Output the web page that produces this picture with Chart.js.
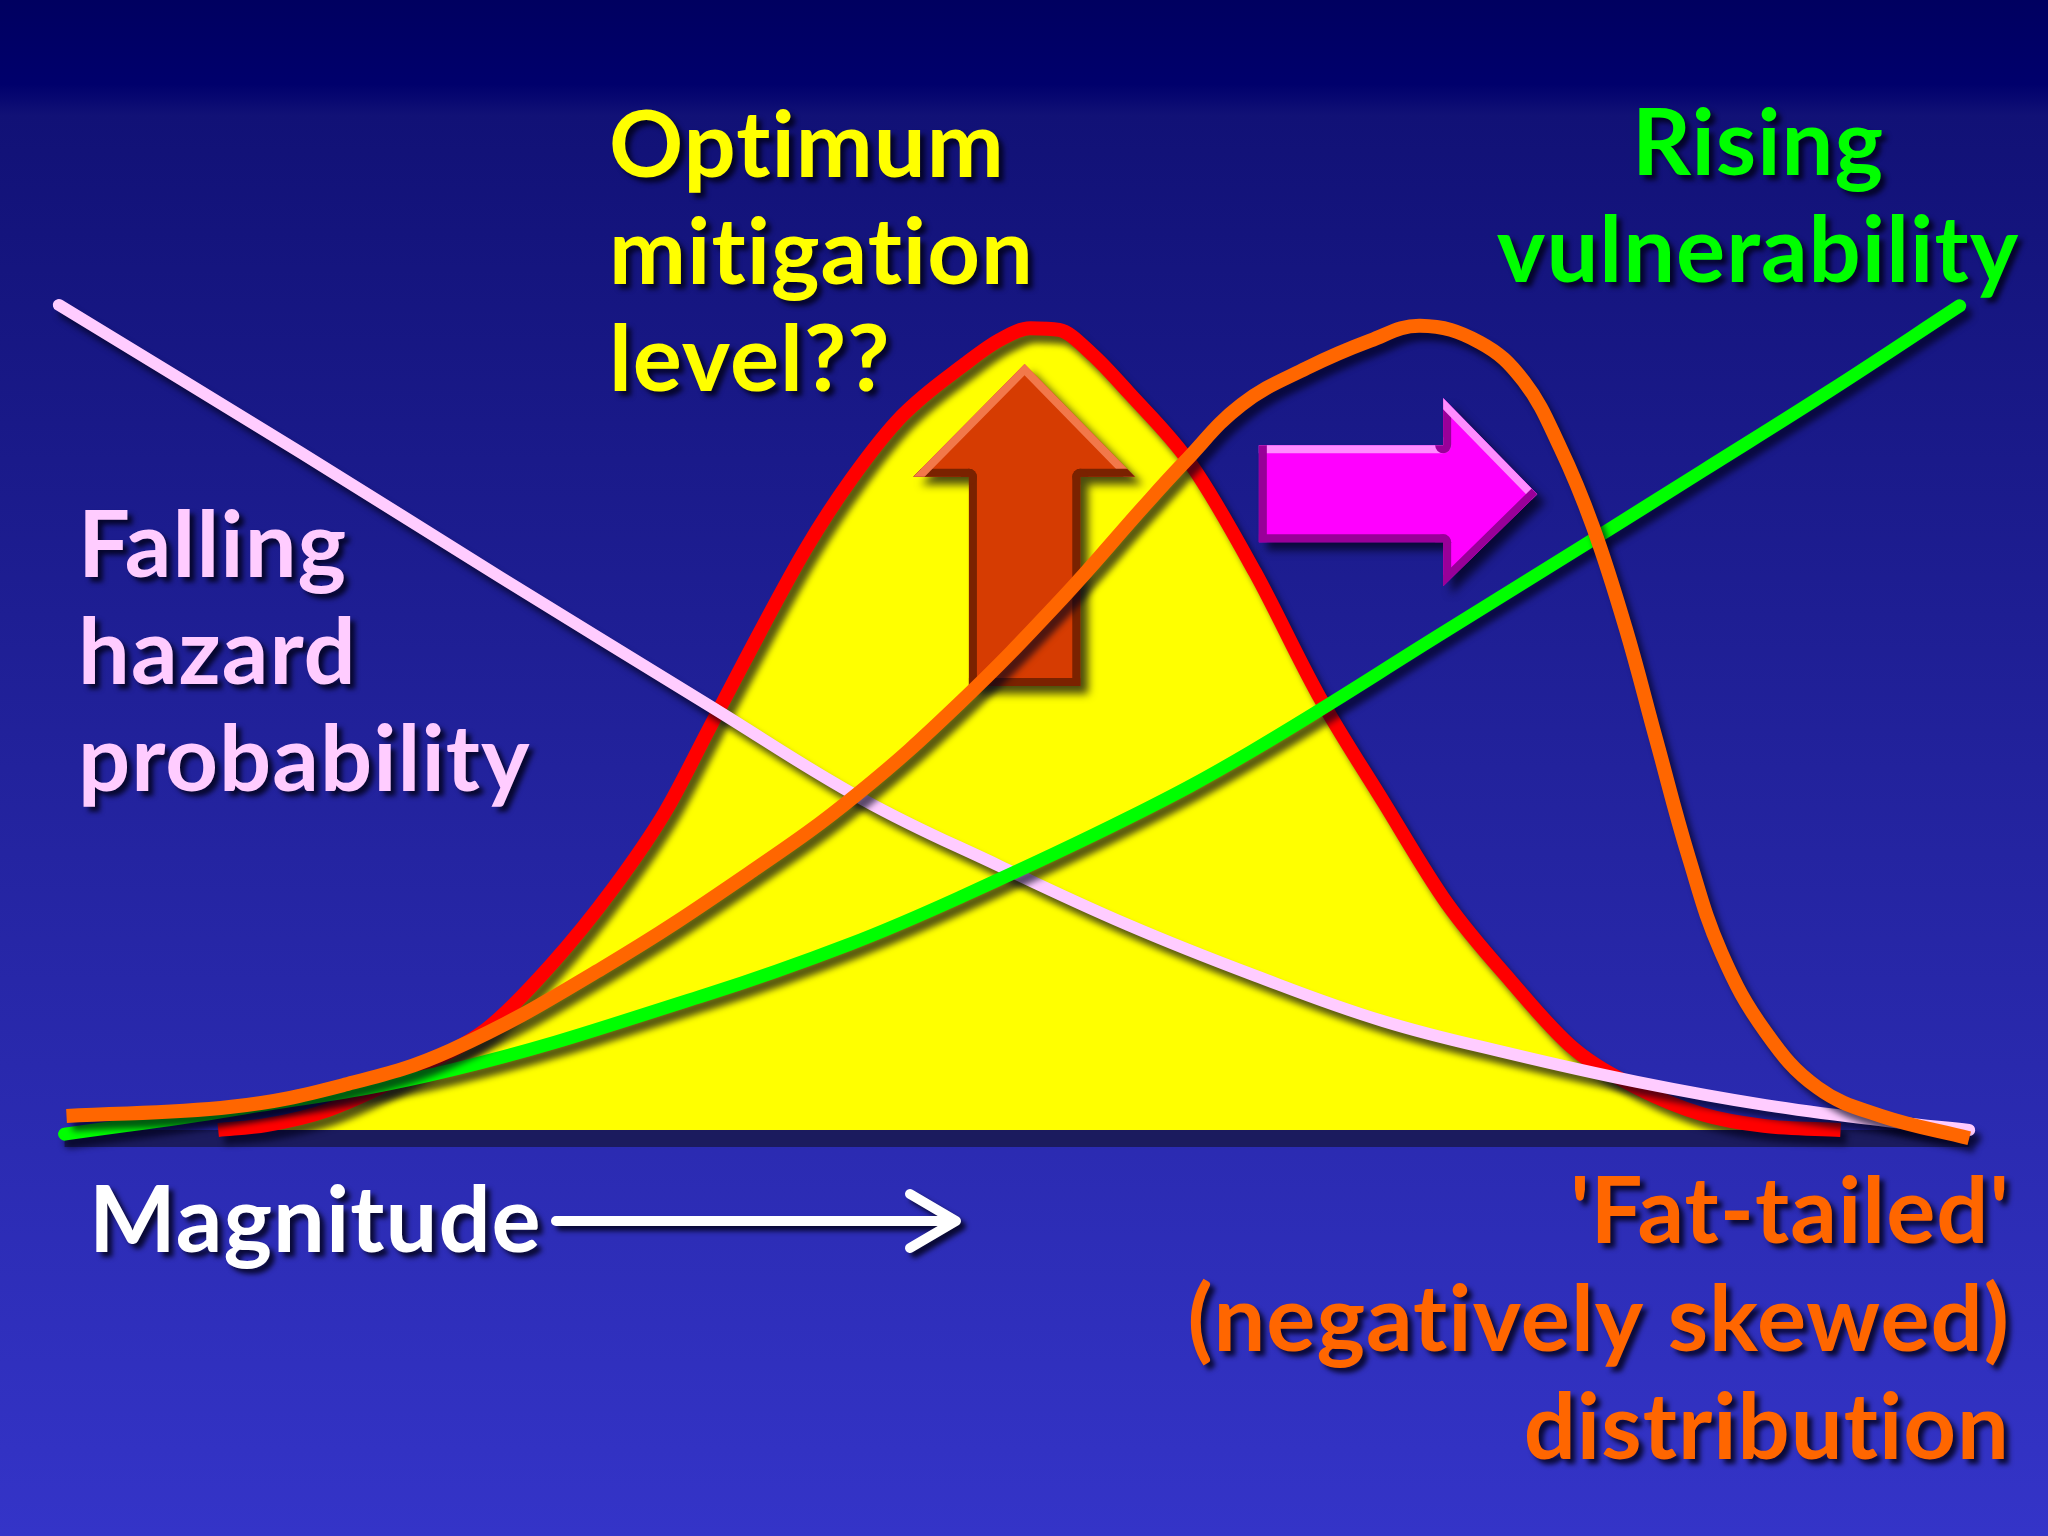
<!DOCTYPE html>
<html>
<head>
<meta charset="utf-8">
<title>Fat-tailed distribution</title>
<script src="https://cdn.jsdelivr.net/npm/chart.js@4.4.1/dist/chart.umd.min.js"></script>
<style>
  html, body { margin: 0; padding: 0; background: #000066; }
  canvas { display: block; }
</style>
</head>
<body>
<canvas id="slide" width="2048" height="1536"></canvas>
<script>
// magnitude runs 0..100 along x, value 0..100 up y

// optimum (normal) distribution, yellow with red edge
var normalX = [8.5, 11, 14.2, 19.2, 22.5, 25.8, 29.1, 31.8, 34.1, 35.8, 39.1, 41.5, 44.1, 47.4, 49.2, 50.8, 52.3, 54, 55.9, 59.2, 62.5, 65.8, 69.2, 72.5, 75.8, 79.1, 82.4, 85.8, 89, 93];
var normalY = [0, 0.6, 2.4, 7.8, 12.2, 19.8, 29.2, 38.4, 48.5, 56, 70, 78.5, 86, 92.3, 95.2, 96.6, 96.4, 93.5, 88.9, 80.1, 67.2, 52.4, 39.5, 27.3, 18, 9.8, 5.1, 1.9, 0.5, 0];

// fat-tailed (negatively skewed) distribution, orange
var skewX = [0.6, 9.2, 15, 20.6, 28.5, 36.5, 41.8, 47.1, 52.4, 56.7, 58.8, 61.8, 65.2, 68.5, 71.1, 74.2, 76.5, 78.4, 80.1, 81.8, 83.4, 85.1, 86.8, 89.1, 91.8, 95.1, 99.7];
var skewY = [1.7, 2.8, 5.4, 9.6, 19.5, 31.5, 40.5, 51.4, 63.9, 75.1, 80.4, 87.4, 91.8, 95.1, 96.9, 94.9, 90.2, 82.2, 72.7, 60.5, 47, 32.8, 21.3, 11.8, 5.1, 1.7, -1];

// falling hazard probability, pink
var hazardX = [0.2, 12.8, 23.2, 34.1, 42.1, 49.2, 55.9, 62.5, 69.2, 75.8, 82.4, 89.1, 95.7, 99.7];
var hazardY = [99.4, 81.6, 66.6, 51.1, 39.8, 31.8, 24.7, 18.6, 13.1, 9.2, 5.8, 3, 1, 0];

// rising vulnerability, green
var vulnX = [0.5, 9.2, 20.6, 33.9, 41.4, 47.1, 55.9, 62.3, 72.5, 79.8, 85.8, 92.4, 99.2];
var vulnY = [-0.5, 2.4, 7.2, 16.3, 22.4, 28, 37.6, 45.6, 60.2, 70.7, 79.4, 89, 99.3];

function points(xs, ys) {
  return xs.map(function (x, i) { return { x: x, y: ys[i] }; });
}

var FONT = 'bold 92px Lato, "Open Sans", sans-serif';

function drawText(ctx, lines, x, y, lineH, color, align) {
  ctx.save();
  ctx.font = FONT;
  ctx.letterSpacing = '1px';
  ctx.textAlign = align;
  ctx.textBaseline = 'alphabetic';
  ctx.fillStyle = color;
  ctx.shadowColor = 'rgba(0,0,20,0.8)';
  ctx.shadowOffsetX = 5;
  ctx.shadowOffsetY = 5;
  ctx.shadowBlur = 5;
  lines.forEach(function (t, i) { ctx.fillText(t, x, y + i * lineH); });
  ctx.restore();
}

// filled polygon with a simple bevel: light edges facing up, dark otherwise
function bevelShape(chart, pts, base, light, dark) {
  var ctx = chart.ctx, xs = chart.scales.x, ys = chart.scales.y;
  var p = pts.map(function (q) { return [xs.getPixelForValue(q[0]), ys.getPixelForValue(q[1])]; });
  var area = 0;
  for (var i = 0; i < p.length; i++) {
    var a = p[i], b = p[(i + 1) % p.length];
    area += a[0] * b[1] - b[0] * a[1];
  }
  function path() {
    ctx.beginPath();
    ctx.moveTo(p[0][0], p[0][1]);
    for (var k = 1; k < p.length; k++) ctx.lineTo(p[k][0], p[k][1]);
    ctx.closePath();
  }
  ctx.save();
  ctx.shadowColor = 'rgba(0,0,20,0.7)';
  ctx.shadowOffsetX = 8;
  ctx.shadowOffsetY = 8;
  ctx.shadowBlur = 8;
  ctx.fillStyle = base;
  path();
  ctx.fill();
  ctx.restore();

  ctx.save();
  path();
  ctx.clip();
  ctx.lineWidth = 16;
  ctx.lineCap = 'round';
  for (var j = 0; j < p.length; j++) {
    var s = p[j], e = p[(j + 1) % p.length];
    var dx = e[0] - s[0], dy = e[1] - s[1];
    var len = Math.sqrt(dx * dx + dy * dy);
    var ny = area > 0 ? -dx / len : dx / len;
    ctx.strokeStyle = ny < -0.2 ? light : dark;
    ctx.beginPath();
    ctx.moveTo(s[0], s[1]);
    ctx.lineTo(e[0], e[1]);
    ctx.stroke();
  }
  ctx.restore();
}

var slidePlugin = {
  id: 'slide',
  beforeDraw: function (chart) {
    var ctx = chart.ctx;
    var g = ctx.createLinearGradient(0, 0, 0, chart.height);
    g.addColorStop(0, '#000060');
    g.addColorStop(0.055, '#00006c');
    g.addColorStop(0.075, '#111176');
    g.addColorStop(0.5, '#22229c');
    g.addColorStop(1, '#3434c8');
    ctx.save();
    ctx.fillStyle = g;
    ctx.fillRect(0, 0, chart.width, chart.height);
    ctx.restore();
  },
  beforeDatasetsDraw: function (chart) {
    // dark base band under the curves
    var ctx = chart.ctx, xs = chart.scales.x, ys = chart.scales.y;
    var x0 = xs.getPixelForValue(0.5), x1 = xs.getPixelForValue(99.7);
    ctx.save();
    ctx.fillStyle = '#1b1b5e';
    ctx.fillRect(x0, ys.getPixelForValue(0), x1 - x0, 17);
    ctx.restore();
  },
  beforeDatasetDraw: function (chart) {
    var ctx = chart.ctx;
    ctx.save();
    ctx.shadowColor = 'rgba(0,0,25,0.65)';
    ctx.shadowOffsetX = 6;
    ctx.shadowOffsetY = 8;
    ctx.shadowBlur = 6;
  },
  afterDatasetDraw: function (chart, args) {
    chart.ctx.restore();
    if (chart.data.datasets[args.index].label === 'Optimum') {
      bevelShape(chart, [[50.5, 92.3], [56.25, 78.7], [53.4, 78.7], [53.4, 53.5], [47.6, 53.5], [47.6, 78.7], [44.7, 78.7]],
        '#d63c02', '#f2784a', '#7a2200');
      bevelShape(chart, [[62.7, 82.5], [72.3, 82.5], [72.3, 88.2], [77.2, 76.6], [72.3, 65.5], [72.3, 70.8], [62.7, 70.8]],
        '#ff00ff', '#ff8cff', '#990099');
    }
  },
  afterDraw: function (chart) {
    var ctx = chart.ctx;
    drawText(ctx, ['Optimum', 'mitigation', 'level??'], 609, 177, 107, '#ffff00', 'left');
    drawText(ctx, ['Rising', 'vulnerability'], 1758, 175, 107, '#00ff00', 'center');
    drawText(ctx, ['Falling', 'hazard', 'probability'], 78, 577, 107, '#ffccff', 'left');
    drawText(ctx, ['Magnitude'], 89, 1252, 107, '#ffffff', 'left');
    drawText(ctx, ["'Fat-tailed'", '(negatively skewed)', 'distribution'], 2010, 1243, 108, '#ff6600', 'right');

    // magnitude arrow
    ctx.save();
    ctx.strokeStyle = '#ffffff';
    ctx.lineWidth = 10;
    ctx.lineCap = 'round';
    ctx.lineJoin = 'round';
    ctx.shadowColor = 'rgba(0,0,20,0.8)';
    ctx.shadowOffsetX = 5;
    ctx.shadowOffsetY = 5;
    ctx.shadowBlur = 5;
    ctx.beginPath();
    ctx.moveTo(556, 1221);
    ctx.lineTo(954, 1221);
    ctx.moveTo(910, 1194);
    ctx.lineTo(956, 1221);
    ctx.lineTo(910, 1248);
    ctx.stroke();
    ctx.restore();
  }
};

var ctx = document.getElementById('slide').getContext('2d');
var chart = new Chart(ctx, {
  type: 'line',
  data: {
    datasets: [{
      label: 'Optimum',
      data: points(normalX, normalY),
      borderColor: '#ff0000',
      backgroundColor: '#ffff00',
      borderWidth: 14,
      fill: 'origin',
      cubicInterpolationMode: 'monotone',
      order: 4
    }, {
      label: 'Falling hazard probability',
      data: points(hazardX, hazardY),
      borderColor: '#ffccff',
      borderWidth: 12,
      fill: false,
      borderCapStyle: 'round',
      order: 3
    }, {
      label: 'Rising vulnerability',
      data: points(vulnX, vulnY),
      borderColor: '#00ff00',
      borderWidth: 13,
      fill: false,
      borderCapStyle: 'round',
      order: 2
    }, {
      label: 'Fat-tailed distribution',
      data: points(skewX, skewY),
      borderColor: '#ff6600',
      borderWidth: 14,
      fill: false,
      order: 1
    }]
  },
  options: {
    responsive: false,
    animation: false,
    devicePixelRatio: 1,
    layout: { padding: { left: 55, right: 73, top: 300, bottom: 406 } },
    datasets: {
      line: { tension: 0.4, pointRadius: 0, clip: false, borderJoinStyle: 'round' }
    },
    scales: {
      x: { type: 'linear', min: 0, max: 100, display: false },
      y: { min: 0, max: 100, display: false }
    },
    plugins: { legend: { display: false }, tooltip: { enabled: false } }
  },
  plugins: [slidePlugin]
});
</script>
</body>
</html>
